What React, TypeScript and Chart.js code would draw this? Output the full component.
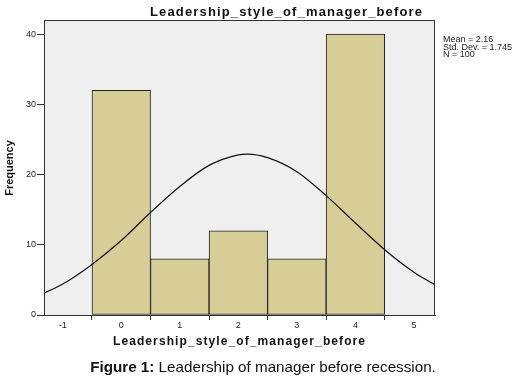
import React, { useEffect, useRef } from 'react';
import { Chart, registerables } from 'chart.js';

Chart.register(...registerables);

// ---- data ----
const binCenters = [0, 1, 2, 3, 4];
const frequencies = [32, 8, 12, 8, 40];
const curveX = [-1.32, -1, -0.5, 0, 0.5, 1, 1.5, 2, 2.16, 2.5, 3, 3.5, 4, 4.5, 5, 5.36];
const curveY = [3.1, 4.4, 7.2, 10.6, 14.6, 18.3, 21.3, 22.8, 22.9, 22.4, 20.4, 17.0, 13.1, 9.3, 6.1, 4.3];
const xTicks = [-1, 0, 1, 2, 3, 4, 5];
const yTicks = [0, 10, 20, 30, 40];
const statsLines = ['Mean = 2.16', 'Std. Dev. = 1.745', 'N = 100'];
const chartTitle = 'Leadership_style_of_manager_before';
const xTitle = 'Leadership_style_of_manager_before';
const yTitle = 'Frequency';
const captionBold = 'Figure 1:';
const captionRest = ' Leadership of manager before recession.';

const FONT = '"Liberation Sans", Arial, Helvetica, sans-serif';

function drawSpaced(ctx: CanvasRenderingContext2D, text: string, x: number, y: number, target: number) {
  const c: any = ctx;
  c.letterSpacing = '0px';
  const w0 = ctx.measureText(text).width;
  const sp = Math.max(0, (target - w0) / (text.length - 1));
  c.letterSpacing = sp + 'px';
  ctx.textAlign = 'left';
  ctx.fillText(text, x - target / 2, y);
  c.letterSpacing = '0px';
}

const decorPlugin = {
  id: 'decor',
  beforeDraw(chart: any) {
    const { ctx, chartArea: a } = chart;
    ctx.save();
    ctx.fillStyle = '#ffffff';
    ctx.fillRect(0, 0, chart.width, chart.height);
    ctx.fillStyle = '#efefef';
    ctx.fillRect(a.left, a.top, a.right - a.left, a.bottom - a.top);
    ctx.restore();
  },
  afterDraw(chart: any) {
    const { ctx, chartArea: a } = chart;
    ctx.save();
    ctx.strokeStyle = '#333333';
    ctx.lineWidth = 1;
    ctx.strokeRect(Math.round(a.left) + 0.5, Math.round(a.top) + 0.5, Math.round(a.right - a.left) - 1, Math.round(a.bottom - a.top));

    ctx.fillStyle = '#111111';
    ctx.textBaseline = 'middle';
    // chart title
    ctx.font = `bold 13px ${FONT}`;
    drawSpaced(ctx, chartTitle, 286, 12, 272);
    // x title
    ctx.font = `bold 12px ${FONT}`;
    drawSpaced(ctx, xTitle, 239, 342, 252);
    // y title
    ctx.save();
    ctx.translate(10, 168);
    ctx.rotate(-Math.PI / 2);
    ctx.font = `bold 11px ${FONT}`;
    ctx.textAlign = 'center';
    ctx.fillText(yTitle, 0, 0);
    ctx.restore();
    // stats
    ctx.font = `9px ${FONT}`;
    ctx.textAlign = 'left';
    ctx.fillStyle = '#222222';
    statsLines.forEach((s, i) => ctx.fillText(s, 443, 40 + i * 7.5));
    // caption
    const target = 346;
    let fs = 14;
    ctx.font = `bold ${fs}px ${FONT}`;
    let wb = ctx.measureText(captionBold).width;
    ctx.font = `${fs}px ${FONT}`;
    let wr = ctx.measureText(captionRest).width;
    fs = fs * target / (wb + wr);
    ctx.font = `bold ${fs}px ${FONT}`;
    wb = ctx.measureText(captionBold).width;
    ctx.font = `${fs}px ${FONT}`;
    wr = ctx.measureText(captionRest).width;
    const startX = 263 - (wb + wr) / 2;
    ctx.fillStyle = '#111111';
    ctx.font = `bold ${fs}px ${FONT}`;
    ctx.fillText(captionBold, startX, 368);
    ctx.font = `${fs}px ${FONT}`;
    ctx.fillText(captionRest, startX + wb, 368);
    ctx.restore();
  },
};

export default function App() {
  const ref = useRef<HTMLCanvasElement | null>(null);
  useEffect(() => {
    if (!ref.current) return;
    const chart = new Chart(ref.current, {
      type: 'bar',
      data: {
        datasets: [
          {
            type: 'line',
            data: curveX.map((x, i) => ({ x, y: curveY[i] })),
            borderColor: '#111111',
            borderWidth: 1.2,
            pointRadius: 0,
            fill: false,
            cubicInterpolationMode: 'monotone',
            order: 0,
          } as any,
          {
            type: 'bar',
            data: binCenters.map((x, i) => ({ x, y: frequencies[i] })),
            backgroundColor: '#d6cd97',
            borderColor: '#222222',
            borderWidth: 1,
            borderSkipped: false,
            barPercentage: 1,
            categoryPercentage: 1,
            order: 1,
          } as any,
        ],
      },
      options: {
        responsive: false,
        animation: false,
        events: [],
        layout: { padding: { top: 20, right: 90, bottom: 0, left: 0 } },
        plugins: { legend: { display: false }, tooltip: { enabled: false }, title: { display: false } },
        scales: {
          x: {
            type: 'linear',
            min: -1.32,
            max: 5.36,
            offset: false,
            afterBuildTicks: (s: any) => { s.ticks = xTicks.map((v) => ({ value: v })); },
            afterFit: (s: any) => { s.height = 64; },
            grid: { drawOnChartArea: false, drawTicks: true, tickLength: 5, color: '#333333' },
            border: { display: true, color: '#333333' },
            ticks: { color: '#222222', font: { size: 9, family: FONT }, padding: 0, maxRotation: 0, autoSkip: false },
          },
          y: {
            type: 'linear',
            min: 0,
            max: 42,
            afterBuildTicks: (s: any) => { s.ticks = yTicks.map((v) => ({ value: v })); },
            afterFit: (s: any) => { s.width = 44; },
            grid: { drawOnChartArea: false, drawTicks: true, tickLength: 7, color: '#333333' },
            border: { display: true, color: '#333333' },
            ticks: { color: '#222222', font: { size: 9, family: FONT }, padding: 1 },
          },
        },
      },
      plugins: [decorPlugin],
    } as any);
    return () => chart.destroy();
  }, []);
  return (
    <div style={{ position: 'absolute', left: 0, top: 0, width: 525, height: 379, background: '#fff' }}>
      <canvas ref={ref} width={525} height={379} style={{ display: 'block', width: 525, height: 379 }} />
    </div>
  );
}
